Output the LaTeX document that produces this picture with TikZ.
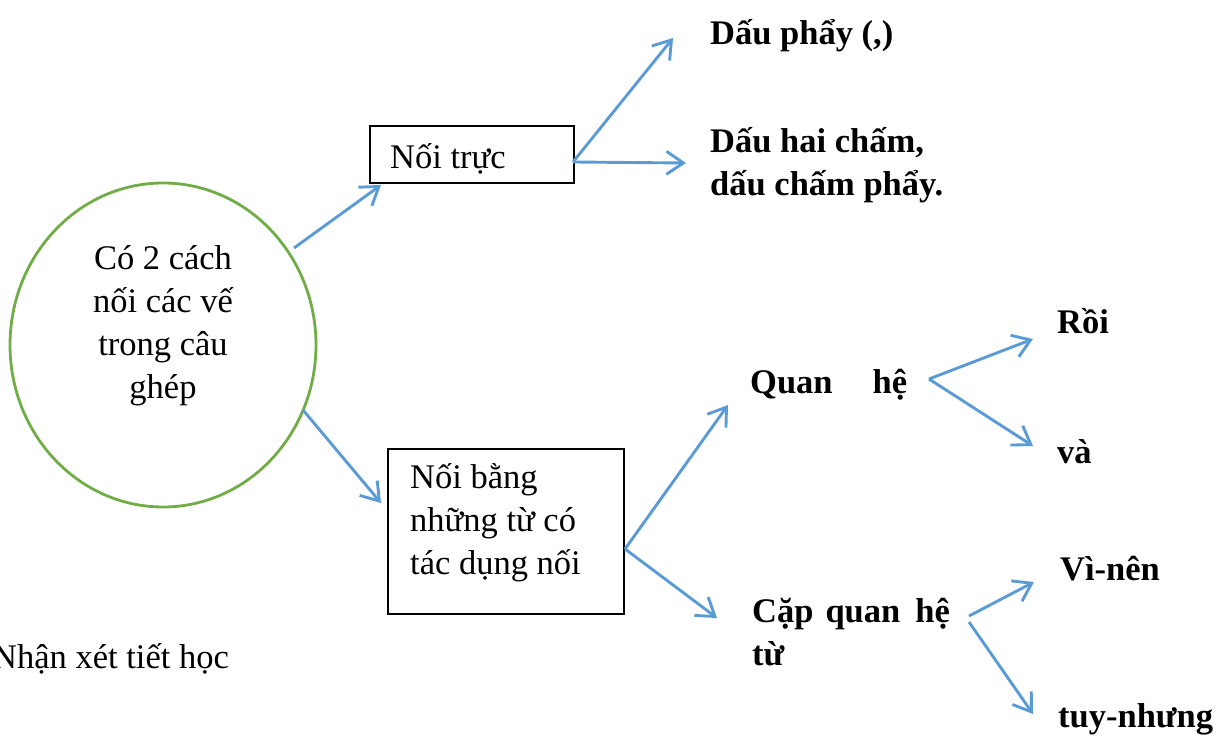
\documentclass[tikz,border=0pt]{standalone}
\usepackage{fontspec}
\setmainfont{Liberation Serif}
\usetikzlibrary{arrows.meta,shapes.geometric}
\definecolor{arrowblue}{HTML}{5B9BD5}
\definecolor{circgreen}{HTML}{70AD47}
\tikzset{
  conn/.style={draw=arrowblue, line width=2.9pt, -{Straight Barb[length=17pt,width=23pt,line width=2.9pt]}},
  boxshape/.style={draw=black, line width=1.3pt, inner sep=0pt},
  txt/.style={inner sep=0pt, anchor=base west, font=\fontsize{34.5}{43}\selectfont},
  btxt/.style={txt, font=\fontsize{34.5}{43}\selectfont\bfseries},
}
\begin{document}
\begin{tikzpicture}[x=1pt,y=-1pt]
\useasboundingbox (0,0) rectangle (1221,738);
% circle
\node[ellipse, draw=circgreen, line width=2.8pt, minimum width=306pt, minimum height=324pt, inner sep=0pt] (circ) at (163,345) {};
\node[inner sep=0pt, align=center, font=\fontsize{34.5}{43}\selectfont, anchor=base] (circtext) at (163,398) {Có 2 cách\\nối các vế\\trong câu\\ghép};
% boxes
\node[boxshape, minimum width=204pt, minimum height=57pt] (box1) at (472,154.5) {};
\node[txt] (box1text) at (390,169) {Nối trực};
\node[boxshape, minimum width=236pt, minimum height=165pt] (box2) at (506,531.5) {};
\node[txt, align=left] (box2text) at (410,574) {Nối bằng\\những từ có\\tác dụng nối};
% labels
\node[btxt] (dp) at (710,45) {Dấu phẩy (,)};
\node[btxt, align=left] (dhc) at (710,196) {Dấu hai chấm,\\dấu chấm phẩy.};
\node[btxt] (qh) at (750,393) {Quan\hspace{40pt}hệ};
\node[btxt] (roi) at (1057,333) {Rồi};
\node[btxt] (va) at (1057,463) {và};
\node[btxt, align=left] (cqh) at (752,665) {Cặp\hspace{12pt}quan\hspace{15pt}hệ\\từ};
\node[btxt] (vn) at (1060,580) {Vì-nên};
\node[btxt] (tn) at (1058,727) {tuy-nhưng};
\node[txt] (nx) at (-8,668) {Nhận xét tiết học};
% connector end points
\coordinate (a1s) at (294,248); \coordinate (a1e) at (381,185);
\coordinate (a2s) at (303,410); \coordinate (a2e) at (381,503);
\coordinate (b1s) at (573,162); \coordinate (b1e) at (673,38);
\coordinate (b2e) at (686,163);
\coordinate (c1s) at (625,549); \coordinate (c1e) at (728,405);
\coordinate (c2e) at (717,618);
\coordinate (d1s) at (929,379); \coordinate (d1e) at (1033,339);
\coordinate (d2e) at (1033,446);
\coordinate (e1s) at (969,616); \coordinate (e1e) at (1034,582);
\coordinate (e2s) at (969,622); \coordinate (e2e) at (1033,714);
\draw[conn] (a1s) -- (a1e);
\draw[conn] (a2s) -- (a2e);
\draw[conn] (b1s) -- (b1e);
\draw[conn] (b1s) -- (b2e);
\draw[conn] (c1s) -- (c1e);
\draw[conn] (c1s) -- (c2e);
\draw[conn] (d1s) -- (d1e);
\draw[conn] (d1s) -- (d2e);
\draw[conn] (e1s) -- (e1e);
\draw[conn] (e2s) -- (e2e);
\end{tikzpicture}
\end{document}
